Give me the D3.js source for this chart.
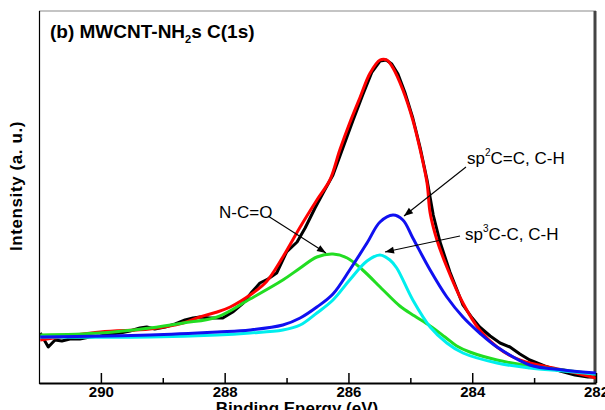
<!DOCTYPE html>
<html>
<head>
<meta charset="utf-8">
<script src="https://cdn.jsdelivr.net/npm/d3@7"></script>
<style>
  html, body { margin: 0; padding: 0; background: #fff; }
  svg { display: block; font-family: Arial, "Liberation Sans", sans-serif; }
</style>
</head>
<body>
<svg id="chart" width="605" height="410"></svg>
<script>
// Binding energy (eV) and intensity (a.u.)
const majorTicks = [290, 288, 286, 284, 282];
const minorTicks = [289, 287, 285, 283];

const rawE = [290.98,290.85,290.74,290.63,290.50,290.34,290.18,290.01,289.85,289.69,289.53,289.37,289.26,289.13,288.96,288.80,288.64,288.51,288.40,288.24,288.03,287.87,287.70,287.56,287.43,287.30,287.16,287.00,286.83,286.70,286.54,286.41,286.25,286.09,285.93,285.77,285.62,285.49,285.39,285.30,285.20,285.09,284.96,284.84,284.73,284.63,284.52,284.36,284.15,284.00,283.88,283.71,283.55,283.39,283.23,283.07,282.83,282.58,282.34,282.13,282.00];
const rawI = [50,36,43,42,44,44,46,47,49,50,52,55,56,54,56,59,63,65,66,65,65,71,80,91,100,104,110,131,141,155,175,190,208,235,262,288,311,322,323,319,309,291,265,235,203,168,141,111,78,65,56,47,40,36,29,23,17,12,8,6,6];

const envE = [290.98,290.01,289.21,288.67,288.40,288.12,287.91,287.59,287.33,287.06,286.78,286.51,286.30,286.14,285.98,285.81,285.65,285.49,285.38,285.28,285.12,284.96,284.84,284.73,284.68,284.57,284.41,284.15,283.88,283.60,283.34,283.07,282.53,282.00];
const envI = [43,51,54,60,66,71,76,88,101,126,156,183,203,233,260,286,310,323,323,315,293,263,233,200,170,143,116,80,53,36,26,20,13,5];

const ncoE = [290.98,290.01,289.21,288.67,288.12,287.59,287.06,286.78,286.51,286.25,286.02,285.77,285.44,285.17,284.93,284.68,284.44,284.25,284.04,283.60,283.07,282.53,282.00];
const ncoI = [48,50,55,60,66,84,103,115,126,129,125,113,93,77,67,57,46,37,31,23,17,13,9];

const sp2E = [290.98,289.21,288.12,287.59,287.06,286.78,286.51,286.25,285.98,285.70,285.49,285.28,285.12,284.96,284.68,284.41,284.15,283.88,283.60,283.07,282.53,282.00];
const sp2I = [46,48,51,53,58,65,76,89,113,140,161,168,163,145,113,86,66,50,36,18,13,10];

const sp3E = [290.98,289.21,288.12,287.59,287.06,286.78,286.51,286.25,285.98,285.70,285.49,285.33,285.22,284.96,284.68,284.41,284.15,283.60,283.07,282.53,282.00];
const sp3I = [46,46,48,50,53,58,70,83,103,122,128,123,115,83,56,40,30,20,15,12,9];

const svg = d3.select("#chart");
const L = 39, R = 596, T = 11, B = 383;
const x = d3.scaleLinear().domain([291, 282]).range([L, R]);
const y = d3.scaleLinear().domain([0, 372]).range([B, T]);

svg.append("defs").append("clipPath").attr("id", "clip")
  .append("rect").attr("x", L).attr("y", T).attr("width", R - L).attr("height", B - T);

// frame (top and right)
svg.append("line").attr("x1", L).attr("x2", R).attr("y1", T).attr("y2", T)
  .attr("stroke", "#8a8a8a").attr("stroke-width", 1.2);
svg.append("line").attr("x1", R - 1).attr("x2", R - 1).attr("y1", T).attr("y2", B)
  .attr("stroke", "#444").attr("stroke-width", 3);

const line = d3.line().x(d => x(d[0])).y(d => y(d[1]));
const smooth = d3.line().x(d => x(d[0])).y(d => y(d[1])).curve(d3.curveCatmullRom.alpha(0.5));
const zip = (a, b) => a.map((v, i) => [v, b[i]]);

const g = svg.append("g").attr("clip-path", "url(#clip)");
g.append("path").attr("d", line(zip(rawE, rawI))).attr("fill", "none")
  .attr("stroke", "#000").attr("stroke-width", 3).attr("stroke-linejoin", "round");
g.append("path").attr("d", smooth(zip(envE, envI))).attr("fill", "none")
  .attr("stroke", "#ff0000").attr("stroke-width", 3);
g.append("path").attr("d", smooth(zip(ncoE, ncoI))).attr("fill", "none")
  .attr("stroke", "#22dd22").attr("stroke-width", 3);
g.append("path").attr("d", smooth(zip(sp3E, sp3I))).attr("fill", "none")
  .attr("stroke", "#00eeee").attr("stroke-width", 3);
g.append("path").attr("d", smooth(zip(sp2E, sp2I))).attr("fill", "none")
  .attr("stroke", "#1010f0").attr("stroke-width", 3);

// axes
const axMajor = d3.axisBottom(x).tickValues(majorTicks).tickSize(-10).tickSizeOuter(0).tickPadding(3)
  .tickFormat(d3.format("d"));
const ax = svg.append("g").attr("transform", `translate(0,${B})`).call(axMajor);
ax.select(".domain").attr("stroke", "#000").attr("stroke-width", 2);
ax.selectAll(".tick line").attr("stroke", "#000").attr("stroke-width", 1.5);
ax.selectAll(".tick text").attr("font-size", 15).attr("font-weight", "bold")
  .attr("font-family", "Arial, 'Liberation Sans', sans-serif").attr("fill", "#000");
const axMinor = d3.axisBottom(x).tickValues(minorTicks).tickSize(-5).tickSizeOuter(0).tickFormat("");
const ax2 = svg.append("g").attr("transform", `translate(0,${B})`).call(axMinor);
ax2.select(".domain").remove();
ax2.selectAll(".tick line").attr("stroke", "#000").attr("stroke-width", 1.5);

// left axis line
svg.append("line").attr("x1", L + 0.5).attr("x2", L + 0.5).attr("y1", T).attr("y2", B + 1)
  .attr("stroke", "#000").attr("stroke-width", 1.2);

// axis titles
svg.append("text").attr("x", 297).attr("y", 414).attr("text-anchor", "middle")
  .attr("font-size", 17).attr("font-weight", "bold").text("Binding Energy (eV)");
svg.append("text").attr("transform", "translate(22,186) rotate(-90)").attr("text-anchor", "middle")
  .attr("font-size", 17).attr("font-weight", "bold").attr("letter-spacing", 0.6).text("Intensity (a. u.)");

// title
const title = svg.append("text").attr("x", 50).attr("y", 38).attr("font-size", 19).attr("font-weight", "bold");
title.append("tspan").text("(b) MWCNT-NH");
title.append("tspan").attr("font-size", 11).attr("dy", 5).text("2");
title.append("tspan").attr("dy", -5).text("s C(1s)");

// annotations
function arrow(x1, y1, x2, y2) {
  svg.append("line").attr("x1", x1).attr("y1", y1).attr("x2", x2).attr("y2", y2)
    .attr("stroke", "#000").attr("stroke-width", 1.1);
  const a = Math.atan2(y2 - y1, x2 - x1), len = 9, w = 3.5;
  const bx = x2 - len * Math.cos(a), by = y2 - len * Math.sin(a);
  const px = -Math.sin(a) * w, py = Math.cos(a) * w;
  svg.append("path").attr("d", `M${x2},${y2}L${bx + px},${by + py}L${bx - px},${by - py}Z`).attr("fill", "#000");
}
svg.append("text").attr("x", 219).attr("y", 218).attr("font-size", 17).text("N-C=O");
arrow(268, 216, 326, 253);

const t2 = svg.append("text").attr("x", 467).attr("y", 164).attr("font-size", 17);
t2.append("tspan").text("sp");
t2.append("tspan").attr("font-size", 10).attr("dy", -8).text("2");
t2.append("tspan").attr("dy", 8).text("C=C, C-H");
arrow(466, 167, 404, 216);

const t3 = svg.append("text").attr("x", 465).attr("y", 240).attr("font-size", 17);
t3.append("tspan").text("sp");
t3.append("tspan").attr("font-size", 10).attr("dy", -8).text("3");
t3.append("tspan").attr("dy", 8).text("C-C, C-H");
arrow(460, 236, 385, 252);
</script>
</body>
</html>
